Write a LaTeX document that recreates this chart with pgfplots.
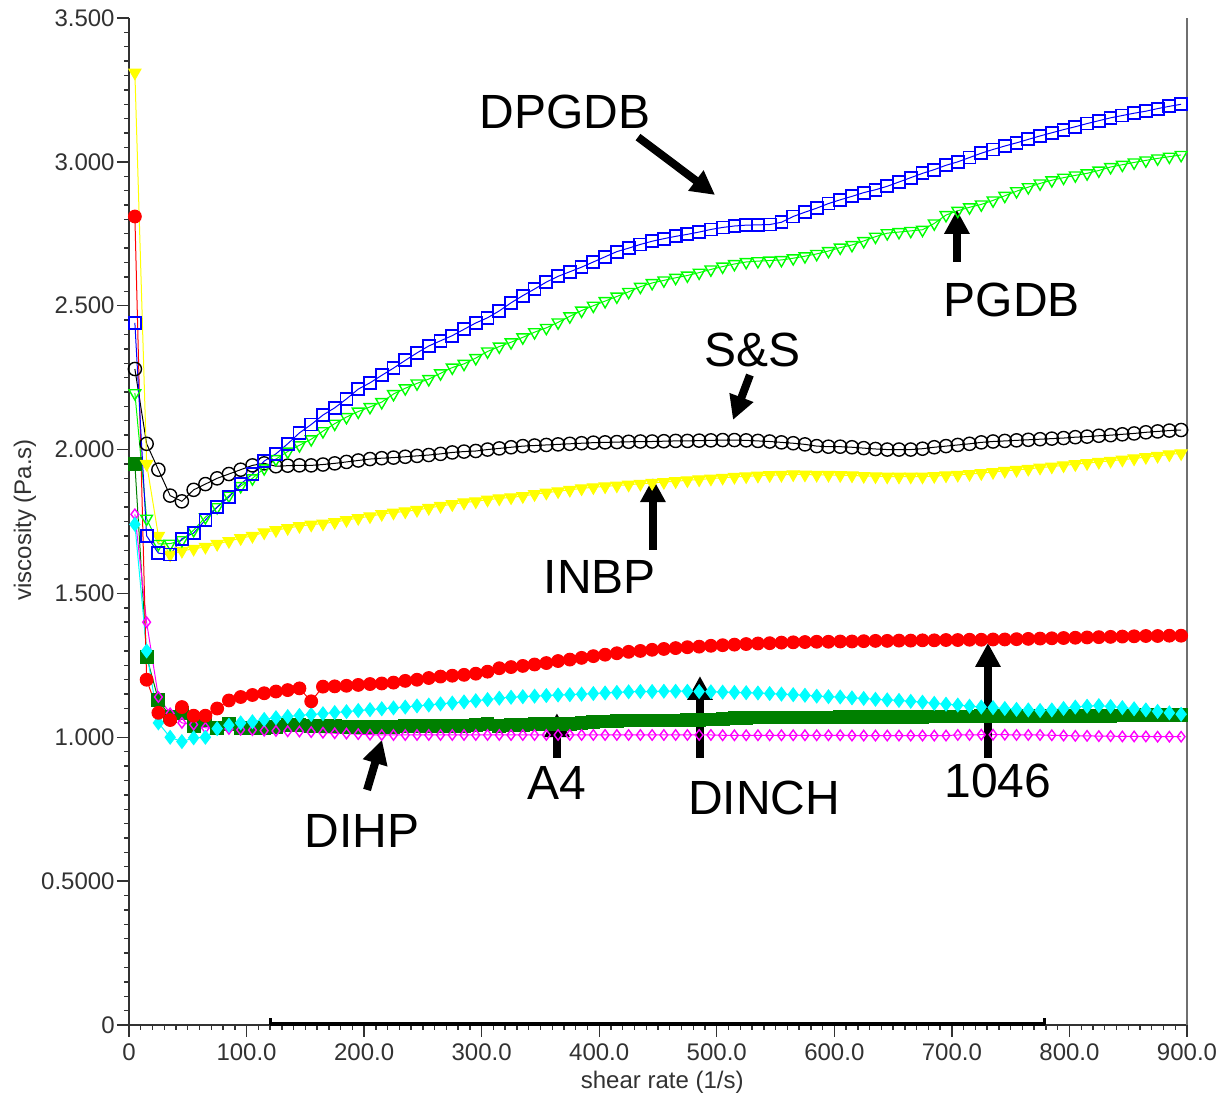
\documentclass[border=0pt]{standalone}
\usepackage{pgfplots}
\pgfplotsset{compat=1.18}
\usepackage{pgfplotstable}
\usepackage{fontspec}
\setmainfont{Liberation Sans}
\usetikzlibrary{arrows.meta}

\definecolor{agreen}{RGB}{0,128,0}
\definecolor{axgray}{RGB}{50,50,50}
\definecolor{cblue}{RGB}{0,0,255}
\definecolor{cgreen}{RGB}{0,255,0}
\definecolor{cyellow}{RGB}{255,255,0}
\definecolor{cred}{RGB}{255,0,0}
\definecolor{ccyan}{RGB}{0,255,255}
\definecolor{cmagenta}{RGB}{255,0,255}

% viscosity (Pa.s) against shear rate (1/s) for eight plasticiser pastes
% bk = S&S, bl = DPGDB, gr = PGDB, ye = INBP, rd = 1046, cy = DINCH, ag = A4, mg = DIHP
\pgfplotstableread{
x bk bl gr ye rd cy ag mg
5 2.280 2.440 2.196 3.310 2.810 1.740 1.950 1.775
15 2.020 1.700 1.760 1.950 1.200 1.300 1.280 1.400
25 1.930 1.640 1.672 1.700 1.085 1.050 1.130 1.140
35 1.840 1.635 1.673 1.635 1.060 1.000 1.072 1.083
45 1.820 1.690 1.685 1.648 1.105 0.985 1.085 1.050
55 1.860 1.710 1.720 1.655 1.075 0.998 1.040 1.044
65 1.880 1.755 1.765 1.662 1.075 1.000 1.060 1.033
75 1.900 1.800 1.800 1.672 1.100 1.030 1.032 1.031
85 1.915 1.835 1.840 1.682 1.128 1.042 1.045 1.029
95 1.930 1.880 1.873 1.692 1.140 1.050 1.032 1.026
105 1.945 1.915 1.900 1.700 1.147 1.054 1.031 1.025
115 1.952 1.960 1.935 1.712 1.153 1.062 1.031 1.023
125 1.942 1.985 1.967 1.720 1.159 1.068 1.035 1.022
135 1.944 2.020 1.993 1.727 1.164 1.072 1.042 1.021
145 1.945 2.058 2.015 1.734 1.170 1.076 1.042 1.020
155 1.945 2.087 2.036 1.739 1.125 1.079 1.040 1.018
165 1.948 2.120 2.064 1.743 1.176 1.082 1.039 1.016
175 1.952 2.145 2.090 1.748 1.177 1.086 1.038 1.014
185 1.957 2.176 2.113 1.755 1.179 1.089 1.037 1.013
195 1.962 2.210 2.132 1.762 1.182 1.093 1.037 1.011
205 1.967 2.232 2.148 1.768 1.185 1.096 1.037 1.009
215 1.970 2.258 2.165 1.776 1.187 1.099 1.037 1.008
225 1.972 2.283 2.193 1.781 1.190 1.102 1.037 1.008
235 1.975 2.310 2.213 1.785 1.196 1.105 1.038 1.008
245 1.978 2.336 2.230 1.790 1.200 1.109 1.039 1.008
255 1.981 2.360 2.245 1.797 1.206 1.112 1.039 1.008
265 1.985 2.378 2.265 1.804 1.211 1.116 1.039 1.008
275 1.990 2.396 2.285 1.810 1.214 1.119 1.039 1.008
285 1.993 2.418 2.298 1.816 1.217 1.123 1.040 1.008
295 1.995 2.440 2.318 1.820 1.221 1.127 1.044 1.008
305 2.000 2.458 2.341 1.826 1.228 1.131 1.045 1.008
315 2.004 2.482 2.358 1.830 1.240 1.136 1.040 1.008
325 2.008 2.510 2.373 1.834 1.244 1.139 1.042 1.008
335 2.012 2.535 2.390 1.838 1.248 1.141 1.044 1.008
345 2.014 2.558 2.408 1.845 1.253 1.143 1.045 1.008
355 2.016 2.582 2.423 1.850 1.258 1.145 1.046 1.008
365 2.018 2.602 2.442 1.855 1.265 1.147 1.046 1.008
375 2.020 2.618 2.463 1.860 1.270 1.148 1.047 1.008
385 2.022 2.634 2.483 1.865 1.276 1.150 1.050 1.008
395 2.024 2.652 2.500 1.869 1.282 1.152 1.053 1.008
405 2.025 2.670 2.516 1.872 1.287 1.154 1.055 1.008
415 2.026 2.688 2.532 1.875 1.292 1.156 1.056 1.008
425 2.027 2.700 2.548 1.878 1.297 1.158 1.058 1.008
435 2.028 2.713 2.566 1.881 1.300 1.159 1.058 1.008
445 2.028 2.724 2.579 1.884 1.304 1.159 1.058 1.008
455 2.029 2.733 2.588 1.887 1.307 1.160 1.058 1.008
465 2.030 2.741 2.597 1.890 1.310 1.160 1.058 1.008
475 2.030 2.748 2.605 1.893 1.313 1.160 1.059 1.008
485 2.031 2.756 2.615 1.896 1.315 1.159 1.060 1.008
495 2.032 2.765 2.626 1.899 1.318 1.158 1.062 1.008
505 2.033 2.772 2.636 1.902 1.320 1.157 1.064 1.007
515 2.033 2.777 2.645 1.905 1.322 1.156 1.066 1.007
525 2.032 2.780 2.652 1.907 1.324 1.155 1.068 1.007
535 2.030 2.781 2.655 1.909 1.326 1.154 1.069 1.007
545 2.028 2.782 2.657 1.911 1.327 1.152 1.069 1.007
555 2.025 2.790 2.659 1.912 1.329 1.150 1.069 1.007
565 2.022 2.810 2.665 1.914 1.330 1.148 1.069 1.007
575 2.018 2.825 2.672 1.913 1.331 1.146 1.069 1.007
585 2.012 2.839 2.680 1.912 1.332 1.143 1.069 1.007
595 2.010 2.855 2.690 1.912 1.332 1.141 1.069 1.007
605 2.010 2.868 2.702 1.911 1.333 1.140 1.070 1.007
615 2.008 2.880 2.711 1.910 1.333 1.137 1.070 1.006
625 2.005 2.893 2.725 1.908 1.334 1.135 1.070 1.006
635 2.002 2.903 2.740 1.907 1.335 1.132 1.070 1.006
645 2.000 2.915 2.752 1.906 1.335 1.130 1.070 1.006
655 2.000 2.930 2.756 1.906 1.336 1.128 1.071 1.006
665 2.000 2.945 2.760 1.906 1.336 1.125 1.071 1.006
675 2.003 2.960 2.764 1.906 1.337 1.122 1.071 1.006
685 2.008 2.973 2.786 1.908 1.337 1.118 1.072 1.006
695 2.012 2.988 2.815 1.910 1.338 1.115 1.072 1.006
705 2.016 3.000 2.830 1.912 1.338 1.112 1.072 1.008
715 2.020 3.015 2.842 1.915 1.339 1.108 1.072 1.008
725 2.025 3.030 2.852 1.918 1.339 1.105 1.073 1.009
735 2.028 3.043 2.866 1.922 1.340 1.103 1.073 1.009
745 2.030 3.055 2.882 1.926 1.340 1.100 1.073 1.009
755 2.032 3.066 2.898 1.929 1.341 1.097 1.073 1.008
765 2.034 3.078 2.912 1.933 1.342 1.095 1.074 1.008
775 2.036 3.090 2.925 1.937 1.343 1.093 1.074 1.008
785 2.038 3.101 2.936 1.941 1.344 1.095 1.074 1.007
795 2.040 3.112 2.945 1.945 1.345 1.100 1.074 1.006
805 2.043 3.122 2.953 1.949 1.346 1.105 1.075 1.005
815 2.045 3.133 2.960 1.953 1.347 1.108 1.075 1.005
825 2.048 3.143 2.970 1.957 1.348 1.110 1.075 1.004
835 2.050 3.153 2.982 1.961 1.349 1.107 1.075 1.004
845 2.053 3.161 2.990 1.965 1.350 1.103 1.076 1.003
855 2.056 3.169 2.998 1.969 1.351 1.099 1.076 1.003
865 2.060 3.176 3.005 1.974 1.352 1.095 1.077 1.003
875 2.063 3.185 3.012 1.978 1.352 1.090 1.077 1.002
885 2.066 3.193 3.018 1.983 1.353 1.085 1.078 1.002
895 2.068 3.200 3.024 1.987 1.353 1.080 1.078 1.002
}\visc

\begin{document}
\begin{tikzpicture}
\useasboundingbox (-64.5pt,-35pt) rectangle (547.5pt,512.5pt);
\begin{axis}[
  at={(0,0)}, anchor=south west,
  scale only axis, width=529pt, height=503.5pt,
  xmin=0, xmax=900, ymin=0, ymax=3.5,
  axis x line*=bottom, axis y line*=left,
  axis line style={axgray, line width=1pt},
  tick align=outside,
  major tick length=6pt, minor tick length=2.5pt,
  every tick/.style={axgray, line width=0.7pt},
  xtick={0,100,200,300,400,500,600,700,800,900},
  xticklabels={0,100.0,200.0,300.0,400.0,500.0,600.0,700.0,800.0,900.0},
  ytick={0,0.5,1,1.5,2,2.5,3,3.5},
  yticklabels={0,0.5000,1.000,1.500,2.000,2.500,3.000,3.500},
  minor x tick num=9, minor y tick num=9,
  ticklabel style={font=\fontsize{12}{12}\selectfont, text=axgray},
  xticklabel style={anchor=north, inner sep=0pt, yshift=-3pt},
  yticklabel style={anchor=east, inner sep=0pt, xshift=-1pt},
  xlabel={shear rate (1/s)}, ylabel={viscosity (Pa.s)},
  label style={font=\fontsize{12}{12}\selectfont, text=axgray},
  xlabel style={at={(axis description cs:0.504,-0.0566)}, anchor=center},
  ylabel style={at={(axis description cs:-0.0983,0.5015)}, anchor=center, rotate=0},
  clip=false,
]
% right frame edge and the highlighted range on the shear-rate axis
\draw[axgray!70, line width=1pt] (axis cs:900,0) -- (axis cs:900,3.5);
\draw[black, line width=2pt] (axis cs:120,0.004) -- (axis cs:779,0.004);
\draw[black, line width=1.5pt] (axis cs:120,0) -- (axis cs:120,0.025);
\draw[black, line width=1.5pt] (axis cs:779,0) -- (axis cs:779,0.025);

\addplot[agreen, line width=0.5pt, mark=square*, mark size=3.2pt] table[x=x,y=ag]{\visc};
\addplot[cmagenta, line width=0.5pt, mark=diamond, mark size=2.6pt, mark options={line width=0.7pt}] table[x=x,y=mg]{\visc};
\addplot[ccyan, line width=0.5pt, mark=diamond*, mark size=3.4pt] table[x=x,y=cy]{\visc};
\addplot[cred, line width=0.5pt, mark=*, mark size=3.2pt] table[x=x,y=rd]{\visc};
\addplot[black, line width=0.5pt, mark=o, mark size=3.3pt, mark options={line width=0.7pt}] table[x=x,y=bk]{\visc};
\addplot[cyellow, line width=0.5pt, mark=triangle*, mark size=3.5pt, mark options={rotate=180}] table[x=x,y=ye]{\visc};
\addplot[cgreen, line width=0.5pt, mark=triangle, mark size=3.4pt, mark options={rotate=180, line width=0.7pt}] table[x=x,y=gr]{\visc};
\addplot[cblue, line width=0.5pt, mark=square, mark size=3pt, mark options={line width=0.9pt}] table[x=x,y=bl]{\visc};

% sample labels with pointers
\tikzset{lab/.style={font=\fontsize{24}{24}\selectfont, text=black},
         ptr/.style={black, line width=4pt, -{Triangle[width=12pt,length=12pt]}}}
\node[lab] at (axis cs:370.9,3.173) {DPGDB};
\draw[ptr] (axis cs:433,3.086) -- (axis cs:498.5,2.885);
\node[lab] at (axis cs:751.1,2.52) {PGDB};
\draw[ptr] (axis cs:704.3,2.652) -- (axis cs:704.3,2.833);
\node[lab] at (axis cs:530,2.346) {S\&S};
\draw[ptr] (axis cs:528.2,2.259) -- (axis cs:513.8,2.103);
\node[lab] at (axis cs:400.6,1.557) {INBP};
\draw[ptr] (axis cs:445.7,1.651) -- (axis cs:445.7,1.901);
\node[lab] at (axis cs:198.2,0.674) {DIHP};
\draw[ptr] (axis cs:202.5,0.817) -- (axis cs:215.2,0.991);
\node[lab] at (axis cs:364,0.841) {A4};
\draw[ptr] (axis cs:364,0.928) -- (axis cs:364,1.084);
\node[lab] at (axis cs:540.2,0.789) {DINCH};
\draw[ptr] (axis cs:485.7,0.928) -- (axis cs:485.7,1.213);
\node[lab] at (axis cs:739.2,0.848) {1046};
\draw[ptr] (axis cs:730.7,0.928) -- (axis cs:730.7,1.328);
\end{axis}
\end{tikzpicture}
\end{document}
